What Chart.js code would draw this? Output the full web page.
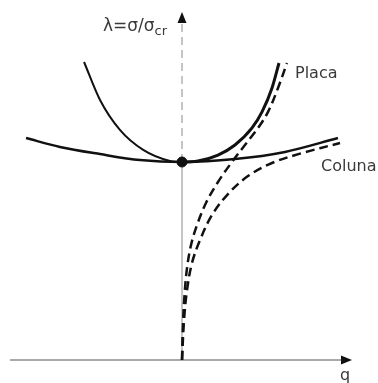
<!DOCTYPE html>
<html>
<head>
<meta charset="utf-8">
<script src="https://cdn.jsdelivr.net/npm/chart.js@4/dist/chart.umd.min.js"></script>
<style>
  html, body { margin: 0; padding: 0; background: #fff; }
  #wrap { width: 378px; height: 383px; }
</style>
</head>
<body>
<div id="wrap"><canvas id="myChart" width="378" height="383"></canvas></div>
<script>
// lambda = sigma / sigma_cr against imperfection q
const placaQ = [-1.01, -0.845, -0.64, -0.40, -0.124, 0, 0.165, 0.371, 0.546, 0.722, 0.825, 0.928, 1.0];
const placaL = [1.505, 1.313, 1.162, 1.061, 1.005, 1, 1.005, 1.035, 1.086, 1.172, 1.253, 1.374, 1.5];

const colunaQ = [-1.608, -1.258, -0.845, -0.433, 0, 0.546, 1.062, 1.608];
const colunaL = [1.121, 1.076, 1.040, 1.010, 1, 1.015, 1.051, 1.121];

// imperfect plate (dashed)
const placaImpQ = [0, 0.010, 0.026, 0.052, 0.093, 0.155, 0.247, 0.371, 0.515, 0.649, 0.784, 0.887, 0.990, 1.082];
const placaImpL = [0, 0.177, 0.328, 0.465, 0.581, 0.682, 0.793, 0.899, 1.0, 1.086, 1.172, 1.253, 1.374, 1.5];

// imperfect column (dashed)
const colunaImpQ = [0, 0.021, 0.052, 0.103, 0.186, 0.309, 0.474, 0.680, 0.928, 1.237, 1.629];
const colunaImpL = [0, 0.202, 0.354, 0.490, 0.606, 0.732, 0.838, 0.929, 0.995, 1.045, 1.096];

const critico = [{ x: 0, y: 1 }];

const pts = (xs, ys) => xs.map((x, i) => ({ x: x, y: ys[i] }));

const ink = '#111';
const textColor = '#3a3a3a';

const axesPlugin = {
  id: 'axesPlugin',
  beforeDatasetsDraw(chart) {
    const { ctx, scales: { x, y } } = chart;
    const x0 = x.getPixelForValue(0);
    const y0 = y.getPixelForValue(0);
    const yc = y.getPixelForValue(1);
    const top = chart.chartArea.top;
    ctx.save();
    // horizontal axis
    ctx.strokeStyle = '#555';
    ctx.lineWidth = 1;
    ctx.beginPath();
    ctx.moveTo(chart.chartArea.left, y0);
    ctx.lineTo(chart.chartArea.right - 6, y0);
    ctx.stroke();
    // vertical axis: solid below the critical point, dashed above
    ctx.strokeStyle = '#8a8a8a';
    ctx.beginPath();
    ctx.moveTo(x0, y0);
    ctx.lineTo(x0, yc);
    ctx.stroke();
    ctx.setLineDash([8, 5]);
    ctx.beginPath();
    ctx.moveTo(x0, yc);
    ctx.lineTo(x0, top + 12);
    ctx.stroke();
    ctx.setLineDash([]);
    // arrow heads
    ctx.fillStyle = ink;
    ctx.beginPath();
    ctx.moveTo(x0, top);
    ctx.lineTo(x0 - 4.5, top + 11);
    ctx.lineTo(x0 + 4.5, top + 11);
    ctx.closePath();
    ctx.fill();
    const r = chart.chartArea.right;
    ctx.beginPath();
    ctx.moveTo(r, y0);
    ctx.lineTo(r - 11, y0 - 4.5);
    ctx.lineTo(r - 11, y0 + 4.5);
    ctx.closePath();
    ctx.fill();
    ctx.restore();
  },
  afterDatasetsDraw(chart) {
    const { ctx, scales: { x } } = chart;
    const x0 = x.getPixelForValue(0);
    ctx.save();
    ctx.fillStyle = textColor;
    ctx.textBaseline = 'alphabetic';
    ctx.textAlign = 'left';
    // axis title with subscript
    ctx.font = '17px "DejaVu Sans", sans-serif';
    const main = 'λ=σ/σ';
    const w = ctx.measureText(main).width;
    const tx = x0 - 79;
    ctx.fillText(main, tx, 31);
    ctx.font = '13px "DejaVu Sans", sans-serif';
    ctx.fillText('cr', tx + w, 35);
    // curve labels
    ctx.font = '16px "DejaVu Sans", sans-serif';
    ctx.fillText('Placa', 295, 78);
    ctx.fillText('Coluna', 321, 171);
    ctx.fillText('q', 340, 380);
    ctx.restore();
  }
};

const ctx = document.getElementById('myChart').getContext('2d');
new Chart(ctx, {
  type: 'scatter',
  data: {
    datasets: [
      {
        label: 'Placa',
        data: pts(placaQ, placaL),
        showLine: true,
        borderColor: ink,
        borderWidth: 2,
        segment: { borderWidth: c => (c.p0.parsed.x >= 0 ? 3 : 2) },
        pointRadius: 0,
        cubicInterpolationMode: 'monotone'
      },
      {
        label: 'Coluna',
        data: pts(colunaQ, colunaL),
        showLine: true,
        borderColor: ink,
        borderWidth: 2.5,
        pointRadius: 0,
        cubicInterpolationMode: 'monotone'
      },
      {
        label: 'Placa imperfeita',
        data: pts(placaImpQ, placaImpL),
        showLine: true,
        borderColor: ink,
        borderWidth: 2.5,
        borderDash: [9, 5],
        pointRadius: 0,
        tension: 0.35
      },
      {
        label: 'Coluna imperfeita',
        data: pts(colunaImpQ, colunaImpL),
        showLine: true,
        borderColor: ink,
        borderWidth: 2.5,
        borderDash: [9, 5],
        pointRadius: 0,
        tension: 0.35
      },
      {
        label: 'Crítico',
        data: critico,
        pointRadius: 5,
        pointBackgroundColor: ink,
        pointBorderColor: ink
      }
    ]
  },
  options: {
    responsive: false,
    animation: false,
    layout: { padding: { left: 10, right: 26, top: 12, bottom: 23 } },
    plugins: { legend: { display: false }, tooltip: { enabled: false } },
    scales: {
      x: { type: 'linear', display: false, min: -172 / 97, max: 170 / 97 },
      y: { type: 'linear', display: false, min: 0, max: 348 / 198 }
    }
  },
  plugins: [axesPlugin]
});
</script>
</body>
</html>
